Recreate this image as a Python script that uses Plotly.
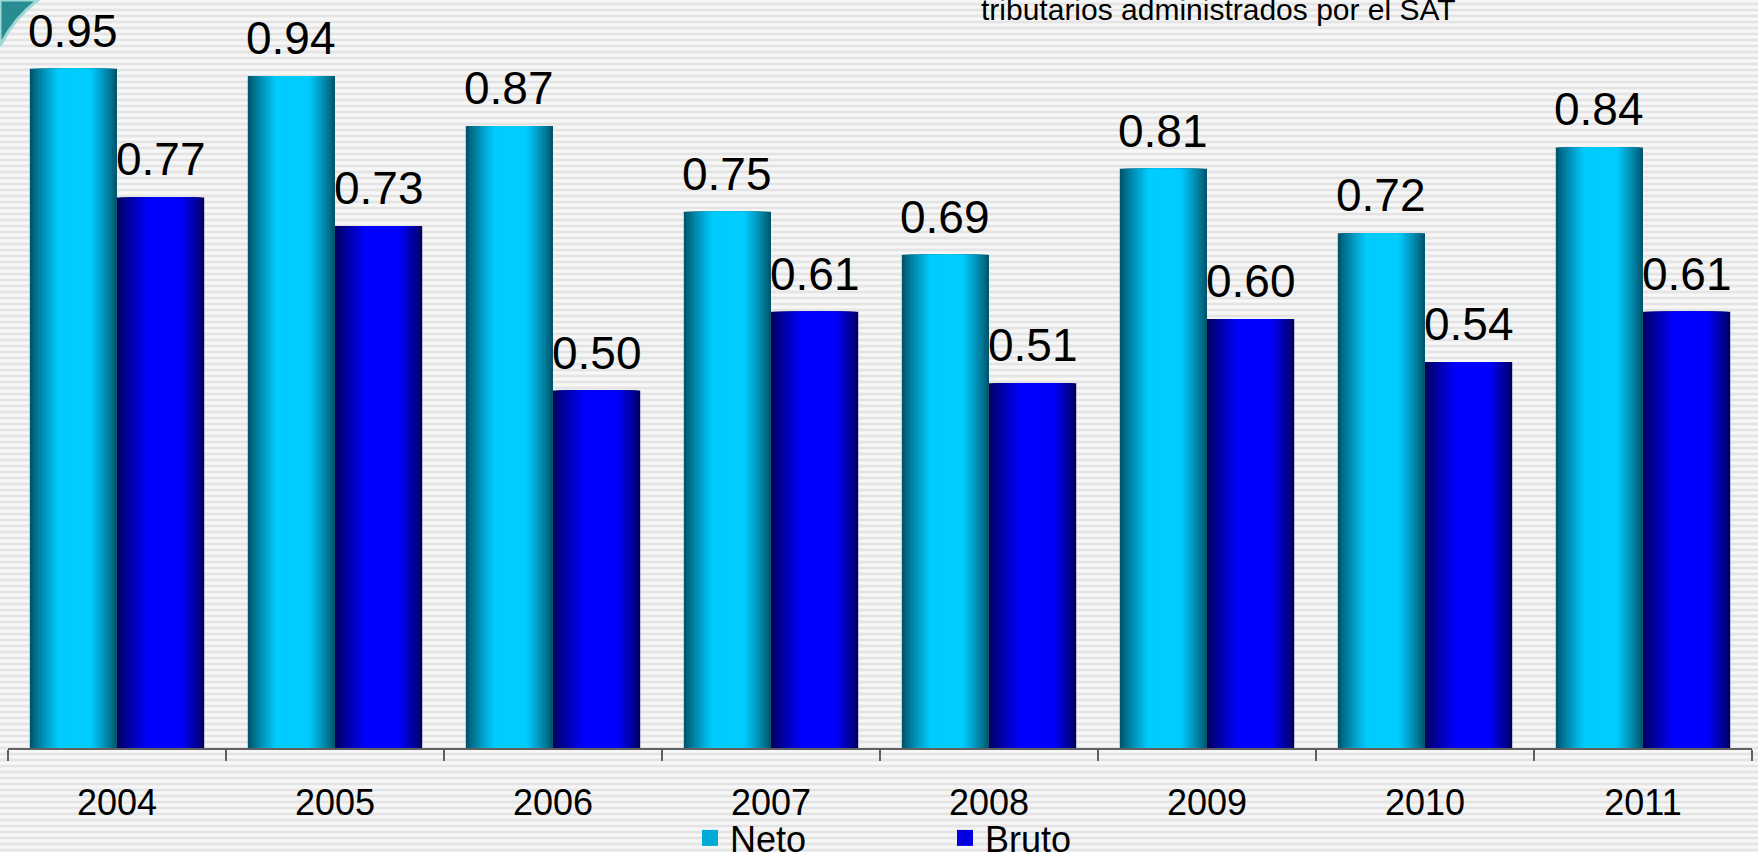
import base64, struct, zlib
import plotly.graph_objects as go

# ---- data ----
years = ["2004", "2005", "2006", "2007", "2008", "2009", "2010", "2011"]
neto = [0.95, 0.94, 0.87, 0.75, 0.69, 0.81, 0.72, 0.84]
bruto = [0.77, 0.73, 0.50, 0.61, 0.51, 0.60, 0.54, 0.61]
series_names = ["Neto", "Bruto"]
title_text = "tributarios administrados por el SAT"

# ---- layout constants ----
W_FIG, H_FIG = 1758, 852
M_L, M_R, M_T, M_B = 8, 6, 33, 104
PLOT_W = W_FIG - M_L - M_R
PLOT_H = H_FIG - M_T - M_B
CAT_PX = PLOT_W / len(years)
BAR_W = 0.4  # in category units

FONT = "Liberation Sans, Arial, sans-serif"


def px_x(px):
    return (px - M_L) / PLOT_W


def px_y(py):
    return 1 - (py - M_T) / PLOT_H


def stripes_png(height):
    rows = []
    pattern = [247, 247, 240, 228, 228, 240]
    for r in range(height):
        v = pattern[r % len(pattern)]
        rows.append(b"\x00" + bytes([v, v, v]))
    raw = b"".join(rows)

    def chunk(t, d):
        c = struct.pack(">I", len(d)) + t + d
        return c + struct.pack(">I", zlib.crc32(t + d) & 0xFFFFFFFF)

    png = b"\x89PNG\r\n\x1a\n"
    png += chunk(b"IHDR", struct.pack(">IIBBBBB", 1, height, 8, 2, 0, 0, 0))
    png += chunk(b"IDAT", zlib.compress(raw))
    png += chunk(b"IEND", b"")
    return "data:image/png;base64," + base64.b64encode(png).decode()


def lerp(c1, c2, t):
    return "rgb(%d,%d,%d)" % tuple(round(a + (b - a) * t) for a, b in zip(c1, c2))


fig = go.Figure()

styles = {
    "Neto": dict(values=neto, offset=-BAR_W, peak=0.52,
                 dark=(0, 88, 112), bright=(0, 204, 255)),
    "Bruto": dict(values=bruto, offset=0.0, peak=0.57,
                  dark=(0, 0, 100), bright=(0, 0, 255)),
}

K = 16
for name in series_names:
    s = styles[name]
    for k in range(K):
        t = k / K
        ct = min(1.0, (t / 0.6)) ** 0.9
        fig.add_trace(go.Bar(
            x=years, y=s["values"], name=name,
            width=BAR_W * (1 - t),
            offset=s["offset"] + s["peak"] * BAR_W * t,
            marker=dict(color=lerp(s["dark"], s["bright"], ct), line=dict(width=0)),
            showlegend=False, hoverinfo="skip" if k else "x+y",
        ))

# legend entries
legend_colors = {"Neto": "rgb(0,170,215)", "Bruto": "rgb(0,0,225)"}
for name in series_names:
    fig.add_trace(go.Scatter(
        x=[years[0]], y=[None], mode="markers", name=name,
        marker=dict(symbol="square", size=20, color=legend_colors[name]),
    ))

# value labels
annotations = []
for name in series_names:
    s = styles[name]
    xoff = s["offset"] + BAR_W / 2
    for i, v in enumerate(s["values"]):
        annotations.append(dict(
            x=i + xoff, y=v, xref="x", yref="y", text="%.2f" % v,
            showarrow=False, yanchor="bottom", xanchor="center",
            yshift=10,
            font=dict(family=FONT, size=46, color="black"),
        ))

annotations.append(dict(
    x=px_x(1458), xref="paper", y=px_y(10), yref="paper",
    text=title_text, showarrow=False, xanchor="right", yanchor="middle",
    font=dict(family="Liberation Sans Narrow, Arial Narrow, Liberation Sans, Arial", size=30, color="black"),
))

swoosh = "M %f,%f L %f,%f Q %f,%f %f,%f Z" % (
    px_x(0), px_y(0), px_x(0), px_y(46), px_x(14), px_y(18), px_x(38), px_y(0))

fig.update_layout(
    width=W_FIG, height=H_FIG,
    margin=dict(l=M_L, r=M_R, t=M_T, b=M_B, pad=0, autoexpand=False),
    barmode="overlay",
    paper_bgcolor="#eeeeee",
    plot_bgcolor="rgba(0,0,0,0)",
    font=dict(family=FONT, color="black"),
    annotations=annotations,
    showlegend=True,
    legend=dict(
        orientation="h", x=px_x(945), xanchor="center",
        y=px_y(838), yanchor="middle",
        font=dict(family=FONT, size=36, color="black"),
        bgcolor="rgba(0,0,0,0)", entrywidth=210, itemwidth=30,
    ),
    images=[dict(
        source=stripes_png(H_FIG), xref="paper", yref="paper",
        x=px_x(0), y=px_y(0),
        sizex=W_FIG / PLOT_W, sizey=H_FIG / PLOT_H,
        sizing="stretch", xanchor="left", yanchor="top", layer="below",
    )],
    shapes=[dict(
        type="path", xref="paper", yref="paper", layer="above",
        path=swoosh,
        fillcolor="rgb(40,140,145)", line=dict(color="rgb(160,215,215)", width=3),
    )],
)

fig.update_xaxes(
    type="category", categoryorder="array", categoryarray=years,
    range=[-0.5, len(years) - 0.5], automargin=False,
    showline=True, linecolor="#606060", linewidth=2,
    ticks="outside", ticklen=11, tickwidth=2, tickcolor="#606060",
    tickson="boundaries", showgrid=False, zeroline=False,
    tickfont=dict(family=FONT, size=36, color="black"),
    ticklabelstandoff=22, tickangle=0,
)
fig.update_yaxes(visible=False, range=[0, 1.0], showgrid=False, automargin=False)

fig.write_html(
    "out.html",
    config={"displayModeBar": False},
    post_script="document.body.style.margin='0';document.body.style.overflow='hidden';",
)
